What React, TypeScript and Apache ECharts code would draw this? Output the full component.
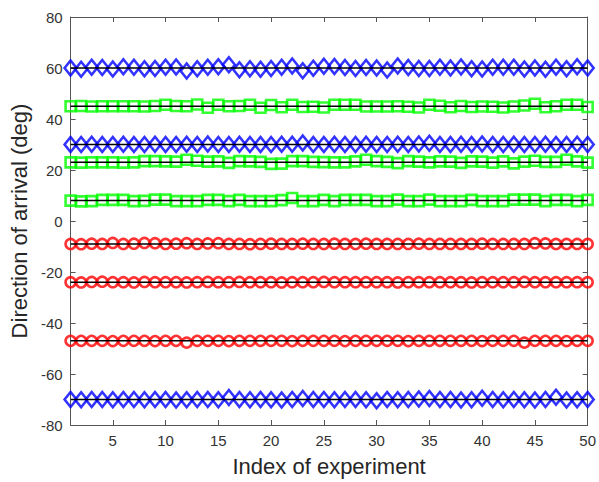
import React, { useEffect, useRef } from "react";
import * as echarts from "echarts";

const xTicks = [5, 10, 15, 20, 25, 30, 35, 40, 45, 50];
const yTicks = [-80, -60, -40, -20, 0, 20, 40, 60, 80];
const trueBlue = [60, 30, -70];
const trueGreen = [45, 23, 8];
const trueRed = [-9, -24, -47];

const blue60 = [60, 59.5, 60.3, 60.2, 59.6, 60.5, 60.3, 59.7, 59.8, 60.3, 60.4, 58.8, 59.7, 60.3, 60.5, 61.3, 59.3, 59.7, 59.5, 59.8, 60.3, 60.8, 58.9, 59.9, 60.7, 60.6, 60.2, 59.8, 60.2, 60.0, 59.2, 60.8, 60.2, 59.8, 59.8, 60.3, 60.0, 60.4, 59.7, 59.6, 60.3, 60.3, 60.3, 59.6, 60.0, 59.5, 60.3, 59.7, 60.5, 60.0];
const blue30 = [30, 30, 30.1, 30, 30, 30.1, 30, 30, 30.1, 30, 30, 30.1, 30, 30.2, 30, 30, 30.1, 30, 30, 30, 30.1, 30.1, 30.6, 30, 30, 30.1, 30, 30, 30.1, 30, 30, 30.1, 30, 30.2, 30.5, 30, 30, 30.1, 30, 30.2, 30, 30, 30.1, 30, 30, 30.1, 30, 30, 30.1, 30];
const blueM70 = [-70, -70.1, -70, -70, -70.1, -70, -70, -70.1, -70, -70, -70.2, -70.1, -70, -70, -70.1, -69.2, -70, -70.1, -70, -70.1, -70.2, -70, -69.6, -70, -70, -70.1, -70, -70, -70.1, -70.5, -70, -70.1, -70, -69.8, -69.6, -70, -70, -70.2, -70.1, -69.5, -70, -70.1, -70, -70.1, -70.2, -70, -69.1, -70.2, -70.1, -70];

const green45 = [45, 45.1, 44.9, 45, 45, 45, 45, 44.9, 45.1, 45.6, 45.1, 45, 45.7, 44.4, 45.6, 45, 45.1, 45.6, 44.4, 45.5, 44.6, 45.6, 44.7, 44.8, 44.5, 45.6, 45.6, 45.6, 44.9, 44.9, 44.9, 45, 44.8, 44.5, 45.6, 45.2, 44.6, 45.1, 44.7, 44.9, 44.8, 44.5, 44.9, 45.3, 46, 44.6, 45, 45.6, 45.6, 44.7];
const green23 = [23, 22.9, 23, 23, 23, 22.9, 23, 23.5, 23.5, 23.4, 23.3, 24, 23.6, 23.3, 23.4, 22.8, 23.5, 23.4, 23.2, 22.4, 22.5, 23.5, 23.5, 23.2, 23.1, 23, 23, 23.4, 24, 23.5, 23.2, 22.7, 23.5, 23.3, 23, 23.4, 23.3, 22.8, 23.4, 23.3, 22.9, 23.4, 22.6, 23.3, 23.6, 23.2, 23.2, 24, 23.4, 22.9];
const green8 = [8, 7.7, 7.8, 8.3, 8.3, 8.3, 7.8, 7.9, 8.4, 8.4, 7.8, 7.8, 7.8, 8.3, 8.3, 7.8, 8.3, 7.8, 7.8, 7.8, 8.2, 9, 7.8, 7.8, 8.3, 7.8, 8.3, 8.3, 8.3, 7.8, 7.8, 8.4, 7.8, 7.8, 8.4, 7.8, 7.8, 7.8, 8.3, 7.8, 7.8, 7.8, 8.4, 8.4, 8.4, 7.8, 8.3, 8.3, 7.8, 8.3];

const redM9 = [-9, -9.1, -8.9, -9, -8.6, -9, -8.9, -8.6, -8.7, -9, -8.9, -8.7, -9, -8.8, -8.7, -9, -9, -9.1, -9, -8.9, -9, -9, -8.9, -9, -9, -8.9, -9, -9, -8.9, -9, -9, -9, -9, -8.9, -9, -9, -9, -9, -9, -8.9, -9, -9, -9, -9, -8.7, -8.8, -9, -9, -9, -9];
const redM24 = [-24, -24.1, -23.9, -23.8, -24, -24, -24.1, -23.9, -24, -24, -24, -24.1, -24, -23.9, -24, -24, -23.9, -24, -24, -24, -24.1, -24, -24, -24, -23.9, -24, -24, -24, -24, -24, -24, -24.1, -24, -24, -24, -24, -24, -24, -24.1, -24, -24, -24, -24, -23.9, -24, -24, -24, -24, -24, -24];
const redM47 = [-47, -47, -47, -47, -47.1, -47, -47, -47, -47.1, -47, -47, -47.7, -47, -47, -47, -47.1, -47, -47, -47, -47, -47, -47.1, -47, -47, -47, -47, -47.1, -47, -47, -47, -47, -47, -47.1, -47, -47, -47, -47, -47, -47, -47.1, -47, -47, -47, -47.7, -47, -47, -47, -47.1, -47, -47];

const BLUE = "#0000ff";
const GREEN = "#00ff00";
const RED = "#ff0000";
const FONT = "'Liberation Sans', Arial, Helvetica, sans-serif";

function pts(arr: number[]) {
  return arr.map((v, i) => [i + 1, v]);
}

export default function App() {
  const ref = useRef<HTMLDivElement>(null);
  useEffect(() => {
    if (!ref.current) return;
    const chart = echarts.init(ref.current, null, { renderer: "svg" });
    const markerSeries = (data: number[], color: string, symbol: string, size: any) => ({
      type: "scatter",
      data: pts(data),
      symbol,
      symbolSize: size,
      itemStyle: { color: "rgba(0,0,0,0)", borderColor: color, borderWidth: 2.6 },
      z: 2,
      silent: true,
    });
    const lineSeries = (v: number) => ({
      type: "line",
      data: [[1, v], [50, v]],
      symbol: "none",
      lineStyle: { color: "#000", width: 1.5 },
      z: 5,
      silent: true,
    });
    const axisLine = { show: true, onZero: false, lineStyle: { color: "#555", width: 1 } };
    chart.setOption({
      animation: false,
      backgroundColor: "#fff",
      grid: { left: 70, right: 10, top: 17, bottom: 57, containLabel: false },
      xAxis: [
        {
          type: "value",
          min: 1,
          max: 50,
          name: "Index of experiment",
          nameLocation: "middle",
          nameGap: 30,
          nameTextStyle: { fontFamily: FONT, fontSize: 22, color: "#262626" },
          axisLine,
          splitLine: { show: false },
          axisTick: { show: true, inside: true, length: 5, customValues: xTicks, lineStyle: { color: "#555" } },
          axisLabel: { customValues: xTicks, fontFamily: FONT, fontSize: 15, color: "#333", margin: 8 },
        },
        {
          type: "value",
          min: 1,
          max: 50,
          position: "top",
          axisLine,
          splitLine: { show: false },
          axisTick: { show: true, inside: true, length: 5, customValues: xTicks, lineStyle: { color: "#555" } },
          axisLabel: { show: false },
        },
      ],
      yAxis: [
        {
          type: "value",
          min: -80,
          max: 80,
          interval: 20,
          name: "Direction of arrival (deg)",
          nameLocation: "middle",
          nameGap: 38,
          nameTextStyle: { fontFamily: FONT, fontSize: 22, color: "#262626" },
          axisLine,
          splitLine: { show: false },
          axisTick: { show: true, inside: true, length: 5, lineStyle: { color: "#555" } },
          axisLabel: { fontFamily: FONT, fontSize: 15, color: "#333", margin: 8 },
        },
        {
          type: "value",
          min: -80,
          max: 80,
          interval: 20,
          position: "right",
          axisLine,
          splitLine: { show: false },
          axisTick: { show: true, inside: true, length: 5, lineStyle: { color: "#555" } },
          axisLabel: { show: false },
        },
      ],
      series: [
        markerSeries(blue60, BLUE, "diamond", [12, 15]),
        markerSeries(blue30, BLUE, "diamond", [12, 15]),
        markerSeries(blueM70, BLUE, "diamond", [12, 15]),
        markerSeries(green45, GREEN, "rect", 10),
        markerSeries(green23, GREEN, "rect", 10),
        markerSeries(green8, GREEN, "rect", 10),
        markerSeries(redM9, RED, "circle", 10),
        markerSeries(redM24, RED, "circle", 10),
        markerSeries(redM47, RED, "circle", 10),
        ...trueBlue.map(lineSeries),
        ...trueGreen.map(lineSeries),
        ...trueRed.map(lineSeries),
      ],
    });
    return () => chart.dispose();
  }, []);
  return <div ref={ref} style={{ width: 599, height: 482, position: "absolute", left: 0, top: 0 }} />;
}
